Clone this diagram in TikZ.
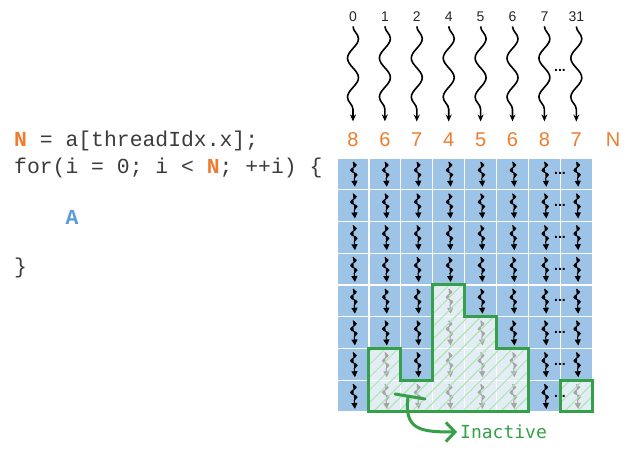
\documentclass[tikz,border=0pt]{standalone}
\usepackage{fontspec}
\setmainfont{Liberation Sans}
\newfontfamily\codefont{Liberation Mono}
\newfontfamily\notefont{DejaVu Sans Mono}
\usetikzlibrary{positioning,decorations.pathmorphing,arrows.meta,patterns.meta}

\definecolor{cellblue}{HTML}{9DC3E6}
\definecolor{cellpale}{HTML}{E4ECF6}
\definecolor{numorange}{HTML}{ED7D31}
\definecolor{codeblue}{HTML}{5B9BD5}
\definecolor{codegray}{HTML}{3C3C3C}
\definecolor{inkgreen}{HTML}{34A047}
\definecolor{hatchgreen}{HTML}{A6E8A6}

\begin{document}
\begin{tikzpicture}[x=1pt, y=-1pt,
    cell/.style = {minimum width=31.9pt, minimum height=31.75pt, inner sep=0, outer sep=0, draw=white, line width=1.2pt},
    cellon/.style = {fill=cellblue}, celloff/.style = {fill=cellpale},
    thread/.style = {decorate, decoration={snake, segment length=10pt, amplitude=3pt, post length=4pt}, -{Triangle[length=6pt, width=6pt]}, line width=1pt},
    warp/.style = {decorate, decoration={snake, segment length=39pt, amplitude=5.5pt, post length=6pt}, -{Stealth[length=7pt, width=6pt]}, line width=1.6pt},
    tid/.style = {font=\fontsize{14}{16}\selectfont, text=black!85},
    num/.style = {font=\fontsize{20}{22}\selectfont, text=numorange},
    code/.style = {anchor=base west, inner sep=0, font=\codefont\fontsize{21.4}{27}\selectfont, text=codegray},
    dots/.style = {font=\bfseries\fontsize{14}{14}\selectfont, inner sep=0},
    green line/.style = {draw=inkgreen, line width=3pt, line join=miter}]
    \fill[white] (0,0) rectangle (630,454);
    \useasboundingbox (0,0) rectangle (630,454);
    % Code on the left
    \node[code] (line1) at (14,147) {\textbf{\color{numorange}N} = a[threadIdx.x];};
    \node[code] (line2) at (14,174) {for(i = 0; i < \textbf{\color{numorange}N}; ++i) \{};
    \node[code] (body) at (65.4,225) {\textbf{\color{codeblue}A}};
    \node[code] (close) at (14,274) {\}};
    % Thread ids, loop counts and warps
    \foreach \i/\t/\n in {0/0/8,1/1/6,2/2/7,3/4/4,4/5/5,5/6/6,6/7/8,7/31/7}{
        \node[tid] (t\i) at ({353+31.9*\i},17) {\t};
        \node[num] (n\i) at ({353+31.9*\i},140) {\n};
        \draw[warp] ([yshift=-1pt]t\i.south) -- ([yshift=8pt]n\i.north);
    }
    \node[num] (nN) at (613,140) {N};
    \node[dots] (dtop) at (560,70) {...};
    % Grid of iterations
    \foreach \i/\n in {0/8,1/6,2/7,3/4,4/5,5/6,6/8,7/7}{
        \foreach \j in {0,...,7}{
            \ifnum\j<\n \def\state{cellon}\def\ink{black}\else\def\state{celloff}\def\ink{black!35}\fi
            \node[cell, \state] (c-\i-\j) at ({337+31.9*\i+15.95},{158+31.75*\j+15.875}) {};
            \draw[thread, draw=\ink, fill=\ink] ([yshift=-4pt]c-\i-\j.north) -- ([xshift=2pt, yshift=3pt]c-\i-\j.south);
        }
    }
    \foreach \j in {0,...,7}
        \node[dots] (d\j) at (560,{158+31.75*\j+15.875}) {...};
    % Inactive threads
    \path[pattern={Lines[angle=45, distance=9pt, line width=1pt]}, pattern color=hatchgreen]
        (c-1-6.north west) -- (c-1-6.north east) |- (c-2-7.north east) |- (c-3-4.north east)
        |- (c-4-5.north east) |- (c-5-6.north east) |- (c-1-7.south west) -- cycle;
    \path[pattern={Lines[angle=45, distance=9pt, line width=1pt]}, pattern color=hatchgreen]
        (c-7-7.north west) rectangle (c-7-7.south east);
    \draw[green line]
        (c-1-6.north west) -- (c-1-6.north east) |- (c-2-7.north east) |- (c-3-4.north east)
        |- (c-4-5.north east) |- (c-5-6.north east) |- (c-1-7.south west) -- cycle;
    \draw[green line] (c-7-7.north west) rectangle (c-7-7.south east);
    % Label
    \node[inner sep=0, anchor=west, font=\notefont\fontsize{18}{20}\selectfont, text=inkgreen] (inactive) at (460,432) {Inactive};
    \coordinate (tickA) at (395,394);
    \coordinate (tickB) at (425,399);
    \coordinate (tickM) at (408,397);
    \draw[green line, line cap=round] (tickA) -- (tickB);
    \draw[green line, line cap=round, -{Straight Barb[length=9pt, width=19pt]}, shorten >=3pt]
        (tickM) .. controls (404,430) and (420,432) .. (inactive.west);
\end{tikzpicture}
\end{document}
